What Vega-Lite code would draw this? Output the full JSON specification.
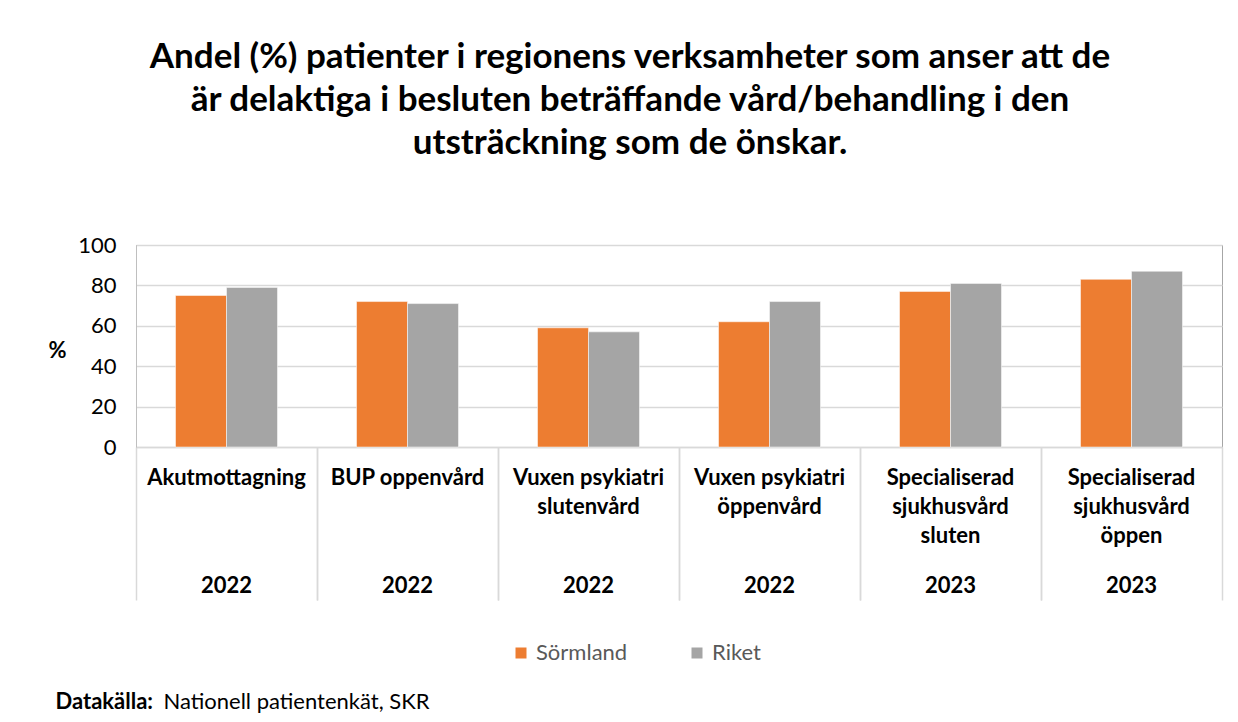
{
  "$schema": "https://vega.github.io/schema/vega-lite/v6.json",
  "autosize": "none",
  "width": 1086,
  "height": 202,
  "padding": {"left": 136, "top": 245, "right": 16, "bottom": 275},
  "background": "white",
  "config": {
    "font": "Lato",
    "view": {"stroke": "#a6a6a6", "strokeWidth": 1}
  },
  "title": {
    "text": ["Andel (%) patienter i regionens verksamheter som anser att de", "är delaktiga i besluten beträffande vård/behandling i den", "utsträckning som de önskar."],
    "font": "Lato",
    "fontSize": 35,
    "fontWeight": "bold",
    "color": "#000000",
    "lineHeight": 43,
    "anchor": "middle",
    "dx": -49,
    "offset": -57
  },
  "data": {
    "values": [
      {"kategori": "Akutmottagning|2022", "serie": "Sörmland", "andel": 75},
      {"kategori": "Akutmottagning|2022", "serie": "Riket", "andel": 79},
      {"kategori": "BUP oppenvård|2022", "serie": "Sörmland", "andel": 72},
      {"kategori": "BUP oppenvård|2022", "serie": "Riket", "andel": 71},
      {"kategori": "Vuxen psykiatri|slutenvård|2022", "serie": "Sörmland", "andel": 59},
      {"kategori": "Vuxen psykiatri|slutenvård|2022", "serie": "Riket", "andel": 57},
      {"kategori": "Vuxen psykiatri|öppenvård|2022", "serie": "Sörmland", "andel": 62},
      {"kategori": "Vuxen psykiatri|öppenvård|2022", "serie": "Riket", "andel": 72},
      {"kategori": "Specialiserad|sjukhusvård|sluten|2023", "serie": "Sörmland", "andel": 77},
      {"kategori": "Specialiserad|sjukhusvård|sluten|2023", "serie": "Riket", "andel": 81},
      {"kategori": "Specialiserad|sjukhusvård|öppen|2023", "serie": "Sörmland", "andel": 83},
      {"kategori": "Specialiserad|sjukhusvård|öppen|2023", "serie": "Riket", "andel": 87}
    ]
  },
  "resolve": {"axis": {"x": "independent"}},
  "layer": [
    {
      "mark": {"type": "bar", "stroke": "white", "strokeWidth": 0.5},
      "encoding": {
        "x": {
          "field": "kategori",
          "type": "nominal",
          "sort": null,
          "scale": {"paddingInner": 0, "paddingOuter": 0},
          "axis": {
            "orient": "bottom",
            "labelExpr": "slice(split(datum.label, '|'), 0, -1)",
            "labelAngle": 0,
            "labelFont": "Lato",
            "labelFontSize": 22,
            "labelFontWeight": "bold",
            "labelColor": "#000000",
            "labelLineHeight": 29,
            "labelPadding": -133,
            "labelLimit": 220,
            "labelBaseline": "top",
            "bandPosition": 0,
            "tickSize": 153,
            "tickColor": "#d9d9d9",
            "tickWidth": 1.5,
            "domainColor": "#d9d9d9",
            "domainWidth": 1.5,
            "title": "Datakälla:",
            "titleFont": "Lato",
            "titleFontSize": 22,
            "titleFontWeight": "bold",
            "titleColor": "#000000",
            "titleAnchor": "start",
            "titleAlign": "left",
            "titleBaseline": "alphabetic",
            "titleX": -81,
            "titleY": 261
          }
        },
        "xOffset": {"field": "serie", "type": "nominal", "sort": ["Sörmland", "Riket"], "scale": {"paddingInner": 0, "paddingOuter": 0.775}},
        "y": {
          "field": "andel",
          "type": "quantitative",
          "scale": {"domain": [0, 100]},
          "axis": {
            "values": [0, 20, 40, 60, 80, 100],
            "title": "%",
            "titleAngle": 0,
            "titleFont": "Lato",
            "titleFontSize": 22,
            "titleFontWeight": "bold",
            "titleColor": "#000000",
            "titleAlign": "center",
            "titleBaseline": "middle",
            "titleX": -79,
            "titleY": 105,
            "labelFont": "Lato",
            "labelFontSize": 22,
            "labelColor": "#000000",
            "labelPadding": 20,
            "ticks": false,
            "domainColor": "#bfbfbf",
            "gridColor": "#d9d9d9",
            "gridWidth": 1.5
          }
        },
        "color": {
          "field": "serie",
          "type": "nominal",
          "sort": ["Sörmland", "Riket"],
          "scale": {"domain": ["Sörmland", "Riket"], "range": ["#ED7D31", "#A5A5A5"]},
          "legend": {
            "title": null,
            "orient": "none",
            "direction": "horizontal",
            "legendX": 374,
            "legendY": 397,
            "padding": 0,
            "symbolType": "square",
            "symbolSize": 121,
            "symbolStrokeWidth": 0,
            "labelFont": "Lato",
            "labelFontSize": 22,
            "labelColor": "#595959",
            "labelOffset": 4,
            "columnPadding": 58
          }
        }
      }
    },
    {
      "mark": {"type": "bar", "opacity": 0},
      "encoding": {
        "x": {
          "field": "kategori",
          "type": "nominal",
          "sort": null,
          "axis": {
            "orient": "bottom",
            "labelExpr": "peek(split(datum.label, '|'))",
            "labelAngle": 0,
            "labelFont": "Lato",
            "labelFontSize": 22,
            "labelFontWeight": "bold",
            "labelColor": "#000000",
            "labelPadding": -15,
            "labelBaseline": "middle",
            "bandPosition": 1,
            "tickSize": 153,
            "tickColor": "#d9d9d9",
            "tickWidth": 1.5,
            "domain": false,
            "title": "Nationell patientenkät, SKR",
            "titleFont": "Lato",
            "titleFontSize": 22,
            "titleFontWeight": "normal",
            "titleColor": "#000000",
            "titleAnchor": "start",
            "titleAlign": "left",
            "titleBaseline": "alphabetic",
            "titleX": 27,
            "titleY": 261
          }
        },
        "y": {"field": "andel", "type": "quantitative"}
      }
    }
  ]
}
